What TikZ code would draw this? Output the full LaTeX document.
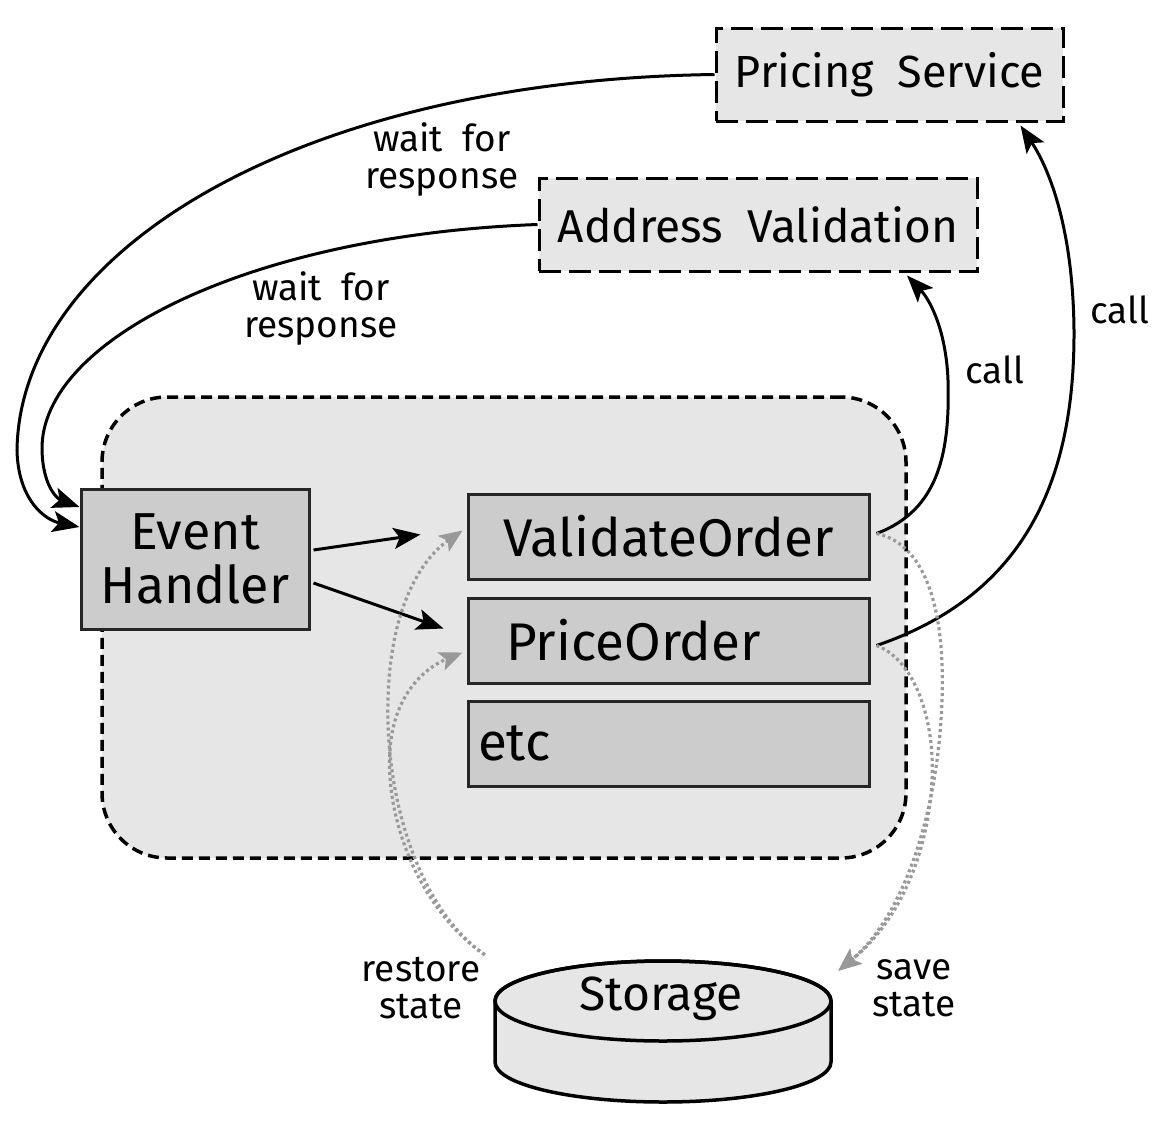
\documentclass[tikz,border=0pt]{standalone}
\usepackage{fontspec}
\setmainfont{Fira Sans}
\usetikzlibrary{arrows.meta,calc}
\definecolor{lightfill}{HTML}{E6E6E6}
\definecolor{boxfill}{HTML}{CCCCCC}
\definecolor{dotgray}{HTML}{999999}
\begin{document}
\begin{tikzpicture}[x=1pt,y=-1pt,
  svc/.style={draw=black, fill=lightfill, line width=3pt, dash pattern=on 22pt off 8pt, inner sep=0pt, minimum height=93pt},
  blk/.style={draw=black!85, fill=boxfill, line width=3pt, inner sep=0pt, font=\fontsize{53}{56}\selectfont},
  lbl/.style={font=\fontsize{37}{37}\selectfont, align=center, inner sep=0pt},
  conn/.style={line width=3pt, -{Stealth[length=27pt,width=21pt,inset=6pt]}},
  dotc/.style={dotgray, line width=3.2pt, dash pattern=on 3pt off 3pt, -{Stealth[length=23pt,width=19pt,inset=5pt]}}
]
\useasboundingbox (0,0) rectangle (1168,1122);
\fill[white] (0,0) rectangle (1168,1122);

% container
\node[draw=black, fill=lightfill, line width=3.5pt, dash pattern=on 11pt off 6pt, rounded corners=65pt,
      minimum width=804pt, minimum height=461pt, inner sep=0pt] (cont) at (504,627.5) {};

% services
\node[svc, minimum width=347pt, font=\fontsize{45}{48}\selectfont] (ps) at (889.5,74.5) {Pricing\ \ Service};
\node[svc, minimum width=438pt, font=\fontsize{46}{48}\selectfont] (av) at (758,224.5) {Address\ \ Validation};

% blocks
\node[blk, minimum width=228pt, minimum height=140pt, align=center, font=\fontsize{52}{54}\selectfont] (eh) at (195,559) {Event\\Handler};
\node[blk, minimum width=401pt, minimum height=85pt] (vo) at (668.5,536.5) {ValidateOrder};
\node[blk, minimum width=401pt, minimum height=85pt] (po) at (668.5,640.5) {\hspace*{-70pt}PriceOrder};
\node[blk, minimum width=401pt, minimum height=85pt, text width=381pt, align=left] (etc) at (668.5,743.5) {etc};

% storage
\node[minimum width=336pt, minimum height=141pt, inner sep=0pt] (st) at (663,1031.5) {};
\filldraw[fill=lightfill, draw=black, line width=3.5pt]
  (495,1001) -- (495,1062) arc (180:0:168 and 40) -- (831,1001) arc (0:-180:168 and 40) -- cycle;
\draw[line width=3.5pt] (663,1001) ellipse (168 and 40);
\node[font=\fontsize{48}{50}\selectfont, inner sep=0pt] (stl) at (661,999) {Storage};

% wait for response curves
\draw[conn] (ps.west) .. controls (300,80) and (20,250) .. (17,450)
  .. controls (18,500) and (45,520) .. ($(eh.west)+(0,-32)$);
\draw[conn] (av.west) .. controls (250,235) and (40,340) .. (42,450)
  .. controls (43,490) and (60,500) .. ($(eh.west)+(0,-52)$);
\node[lbl] (w1) at (442,160) {wait\ \ for\\response};
\node[lbl] (w2) at (321,309) {wait\ \ for\\response};

% event handler to blocks
\draw[conn] ($(eh.east)+(3,-9)$) -- ($(vo.west)+(-46,-2)$);
\draw[conn] ($(eh.east)+(3,24)$) -- ($(po.west)+(-23,-12)$);

% calls
\draw[conn] ($(vo.east)+(6,-3)$) .. controls (940,510) and (950,450) .. (948,380)
  .. controls (946,330) and (930,300) .. ($(av.south)+(149,3)$);
\draw[conn] ($(po.east)+(6,5)$) .. controls (1010,600) and (1075,500) .. (1074,330)
  .. controls (1073,230) and (1050,170) .. ($(ps.south)+(131,3)$);
\node[lbl] (c1) at (995,370) {call};
\node[lbl] (c2) at (1120,310) {call};

% dotted state arrows
\draw[dotc] ($(st.north west)+(-10,-6)$) .. controls (420,910) and (385,800) .. (388,700)
  .. controls (390,610) and (420,560) .. ($(vo.west)+(-4,-6)$);
\draw[dotc] ($(st.north west)+(-10,-6)$) .. controls (420,910) and (385,820) .. (390,750)
  .. controls (393,700) and (420,670) .. ($(po.west)+(-4,12)$);
\draw[dotc] ($(vo.east)+(6,-3)$) .. controls (930,545) and (945,620) .. (942,700)
  .. controls (938,820) and (900,920) .. ($(st.north east)+(7,10)$);
\draw[dotc] ($(po.east)+(6,5)$) .. controls (915,660) and (935,720) .. (932,780)
  .. controls (928,860) and (895,925) .. ($(st.north east)+(7,10)$);
\node[lbl] (rs) at (421,988) {restore\\state};
\node[lbl] (ss) at (914,988) {save\\state};
\end{tikzpicture}
\end{document}
